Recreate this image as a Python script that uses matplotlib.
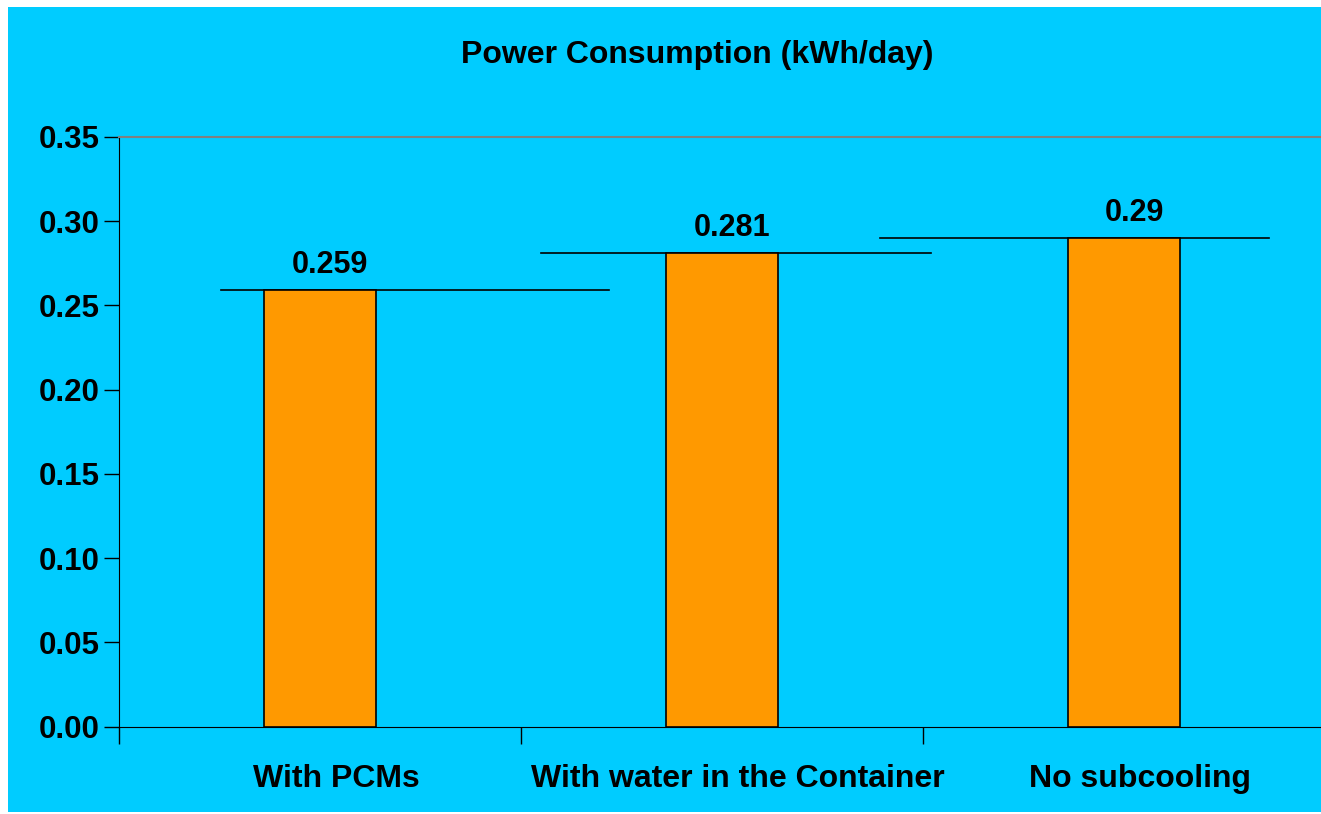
import numpy as np
from matplotlib import pyplot as plt
from matplotlib.patches import Rectangle
import matplotlib.transforms as mtransforms

plt.rcParams['font.family'] = ['Liberation Sans', 'DejaVu Sans']
plt.rcParams['font.weight'] = 'bold'

# data
categories = ['With PCMs', 'With water in the Container', 'No subcooling']
values = [0.259, 0.281, 0.29]
value_labels = ['0.259', '0.281', '0.29']
# odd horizontal lines drawn at bar heights (start / end in category units)
line_start = [-0.246, 0.55, 1.393]
line_end = [0.719, 1.52, 2.36]
yticks = [0.00, 0.05, 0.10, 0.15, 0.20, 0.25, 0.30, 0.35]

W, H = 1321, 814
fig = plt.figure(figsize=(W / 100, H / 100), dpi=100)
fig.patch.set_facecolor('white')
# cyan chart area with small white border
fig.patches.append(Rectangle((8 / W, 2 / H), (W - 8) / W, (H - 9) / H,
                             transform=fig.transFigure, facecolor='#00CCFF',
                             edgecolor='none', zorder=-5))

ax = fig.add_axes([119 / W, 1 - 726.7 / H, 1206 / W, 589.7 / H])
ax.set_zorder(2)
ax.set_facecolor('#00CCFF')

index = np.arange(len(categories))
ax.bar(index, values, 0.279, color='#FF9900', edgecolor='black', linewidth=1.2, zorder=3)

for i in range(len(values)):
    ax.plot([line_start[i], line_end[i]], [values[i], values[i]], color='black', lw=1.2, zorder=2)
    ax.annotate(value_labels[i], (index[i], values[i]), xytext=(10, 17),
                textcoords='offset pixels', ha='center', va='baseline',
                fontsize=22, fontweight='bold')

ax.set_xlim(-0.5, 2.5)
ax.set_ylim(0, 0.35)
ax.set_yticks(yticks)
ax.set_yticklabels(['%.2f' % v for v in yticks], fontsize=22.5, fontweight='bold')
ax.tick_params(axis='y', direction='out', length=11, width=1, pad=3)

# category boundary ticks and centered labels
ax.set_xticks(index - 0.5)
ax.set_xticklabels([])
ax.set_xticks(index, minor=True)
ax.set_xticklabels(categories, minor=True, fontsize=23, fontweight='bold')
ax.tick_params(axis='x', which='major', direction='out', length=12, width=1)
ax.tick_params(axis='x', which='minor', length=0, pad=27)
shift = mtransforms.ScaledTranslation(16 / 100, 0, fig.dpi_scale_trans)
for lab in ax.get_xticklabels(minor=True):
    lab.set_transform(lab.get_transform() + shift)

ax.spines['right'].set_visible(False)
ax.spines['top'].set_color('#808080')
ax.spines['top'].set_linewidth(1.5)

fig.text(697 / W, 1 - 55 / H, 'Power Consumption (kWh/day)', ha='center', va='center',
         fontsize=23, fontweight='bold')

plt.savefig('out.png', dpi=100)
